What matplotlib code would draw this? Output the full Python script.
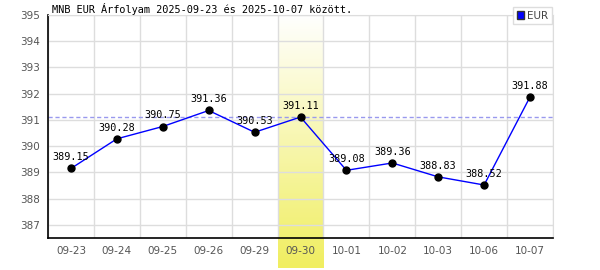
import matplotlib.pyplot as plt
import numpy as np
from matplotlib.colors import LinearSegmentedColormap

dates = ["09-23", "09-24", "09-25", "09-26", "09-29", "09-30",
         "10-01", "10-02", "10-03", "10-06", "10-07"]
rates = [389.15, 390.28, 390.75, 391.36, 390.53, 391.11,
         389.08, 389.36, 388.83, 388.52, 391.88]
highlight_idx = 5
yticks = [387, 388, 389, 390, 391, 392, 393, 394, 395]

fig = plt.figure(figsize=(6, 2.7), dpi=100)
ax = fig.add_axes([48 / 600, 32 / 270, 505 / 600, 223 / 270])

x = np.arange(len(dates))
ax.set_xlim(-0.5, len(dates) - 0.5)
ax.set_ylim(386.5, 395)

# highlighted day: gradient band reaching below the axis
grad = np.linspace(0, 1, 256).reshape(-1, 1)
cmap = LinearSegmentedColormap.from_list("hl", ["#ffffff", "#f0ee60"])
ax.imshow(grad, cmap=cmap, aspect="auto", origin="upper",
          extent=[highlight_idx - 0.5, highlight_idx + 0.5, 385.35, 395],
          clip_on=False, zorder=0)

ax.set_yticks(yticks)
ax.set_xticks(x)
ax.set_xticklabels(dates)
for b in np.arange(-0.5, len(dates), 1.0):
    ax.axvline(b, color="#dddddd", lw=1, zorder=1)
for t in yticks:
    ax.axhline(t, color="#dddddd", lw=1, zorder=1)

ax.axhline(rates[highlight_idx], color="#9999ee", lw=1, ls=(0, (3, 2)), zorder=2)

ax.plot(x, rates, color="#0000ff", lw=1, zorder=3)
ax.plot(x, rates, "o", color="black", ms=5, zorder=4)
for xi, v in zip(x, rates):
    ax.annotate(f"{v:.2f}", (xi, v), xytext=(0, 4.5), textcoords="offset points",
                ha="center", va="bottom", fontsize=7.3, family="DejaVu Sans Mono",
                zorder=5)

ax.tick_params(length=0, labelsize=7.5, colors="#555555", pad=6)
for s in ["top", "right"]:
    ax.spines[s].set_color("#dddddd")
for s in ["left", "bottom"]:
    ax.spines[s].set_color("black")
    ax.spines[s].set_linewidth(1.2)

fig.text(52 / 600, 1 - 13 / 270, "MNB EUR Árfolyam 2025-09-23 és 2025-10-07 között.",
         fontsize=7.4, family="DejaVu Sans Mono", va="baseline", ha="left")

# legend box
leg = fig.legend([plt.Rectangle((0, 0), 1, 1, fc="#0000ff", ec="#333333")], ["EUR"],
                 loc="upper right", bbox_to_anchor=(552 / 600, 1 - 7 / 270), fontsize=7.5,
                 frameon=True, fancybox=False, handlelength=0.7, handleheight=0.7,
                 handletextpad=0.3, borderpad=0.35, borderaxespad=0)
leg.get_frame().set_edgecolor("#dddddd")
leg.get_frame().set_linewidth(1)
leg.get_frame().set_facecolor("white")
leg.get_frame().set_alpha(1)
leg.set_zorder(10)
for t in leg.get_texts():
    t.set_color("#444444")

fig.savefig("out.png", dpi=100)
